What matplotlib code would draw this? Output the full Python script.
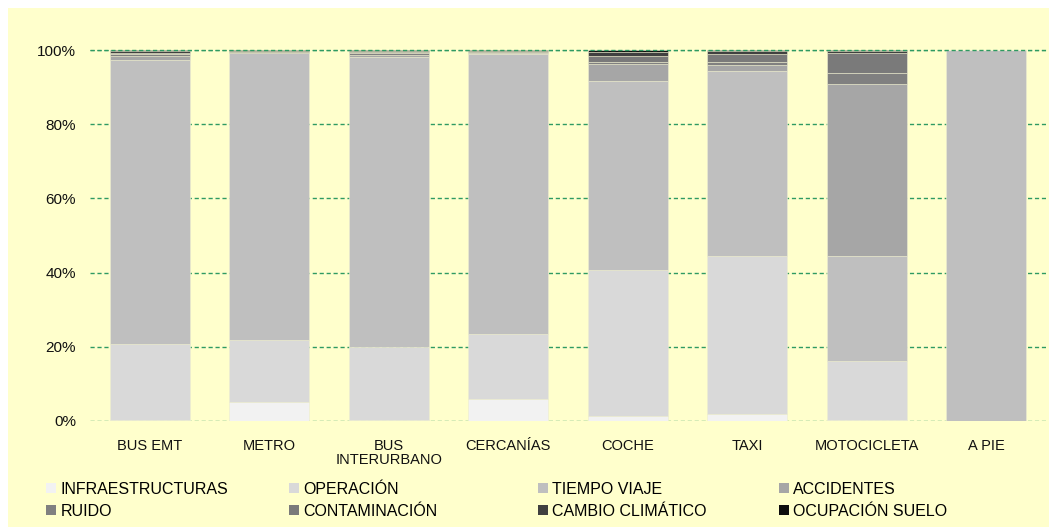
import numpy as np
import matplotlib.pyplot as plt
from matplotlib.patches import Rectangle, Patch
from matplotlib.ticker import PercentFormatter

plt.rcParams['font.family'] = ['Liberation Sans', 'DejaVu Sans']

# categories and stacked cost shares (%)
categories = ['BUS EMT', 'METRO', 'BUS\nINTERURBANO', 'CERCANÍAS', 'COCHE', 'TAXI', 'MOTOCICLETA', 'A PIE']
infraestructuras = [0.3, 5.0, 0.3, 6.0, 1.3, 1.9, 0.3, 0.0]
operacion = [20.5, 16.8, 19.6, 17.4, 39.4, 42.6, 15.9, 0.0]
tiempo_viaje = [76.6, 77.3, 78.1, 75.6, 50.9, 49.8, 28.3, 99.9]
accidentes = [0.9, 0.2, 0.7, 0.2, 4.5, 1.7, 46.3, 0.1]
ruido = [0.5, 0.1, 0.4, 0.1, 0.7, 0.8, 3.1, 0.0]
contaminacion = [0.5, 0.1, 0.4, 0.1, 1.7, 2.2, 5.4, 0.0]
cambio_climatico = [0.4, 0.3, 0.3, 0.4, 0.9, 0.7, 0.5, 0.0]
ocupacion_suelo = [0.3, 0.2, 0.2, 0.2, 0.6, 0.3, 0.2, 0.0]

series_names = ['INFRAESTRUCTURAS', 'OPERACIÓN', 'TIEMPO VIAJE', 'ACCIDENTES',
                'RUIDO', 'CONTAMINACIÓN', 'CAMBIO CLIMÁTICO', 'OCUPACIÓN SUELO']
series = [infraestructuras, operacion, tiempo_viaje, accidentes,
          ruido, contaminacion, cambio_climatico, ocupacion_suelo]
colors = ['#F2F2F2', '#D9D9D9', '#BFBFBF', '#A6A6A6',
          '#808080', '#7A7A7A', '#404040', '#0D0D0D']

W, H = 1057, 529
fig = plt.figure(figsize=(W / 100, H / 100), dpi=100, facecolor='white')

# yellow chart area behind everything
fig.patches.append(Rectangle((8 / W, 2 / H), (W - 16) / W, (H - 10) / H,
                             transform=fig.transFigure, facecolor='#FFFFCC',
                             edgecolor='none', zorder=-10))

ax = fig.add_axes([90 / W, (H - 421) / H, 956 / W, 371 / H])
ax.set_facecolor('none')

data = np.array(series, dtype=float)
data = data / data.sum(axis=0) * 100  # 100% stacked

x = np.arange(len(categories))
bottom = np.zeros(len(categories))
for name, vals, col in zip(series_names, data, colors):
    ax.bar(x, vals, bottom=bottom, width=0.67, color=col,
           edgecolor='#EDEDD0', linewidth=0.4, label=name, zorder=3)
    bottom += vals

ax.set_xlim(-0.5, len(categories) - 0.5)
ax.set_ylim(0, 100)
ax.set_yticks(np.arange(0, 101, 20))
ax.yaxis.set_major_formatter(PercentFormatter(decimals=0))
ax.set_xticks(x)
ax.set_xticklabels(categories, fontsize=10.5, linespacing=0.95)
ax.tick_params(axis='y', length=0, pad=10, labelsize=11, colors='#111111')
ax.tick_params(axis='x', length=0, pad=13, colors='#111111')
grid_style = dict(color='#2E9A62', linestyle=(0, (3, 2)), linewidth=1.0)
ax.grid(axis='y', zorder=1, **grid_style)
ax.set_axisbelow(True)
# the 100% line sits on top of the bars
ax.axhline(100, zorder=5, clip_on=False, **grid_style)
for s in ax.spines.values():
    s.set_visible(False)

# legend: 2 rows x 4 columns, one legend per column
col_x = [46, 289, 538, 779]
for c in range(4):
    hs = [Patch(facecolor=colors[c], edgecolor='none'),
          Patch(facecolor=colors[c + 4], edgecolor='none')]
    ls = [series_names[c], series_names[c + 4]]
    fig.legend(hs, ls, loc='upper left',
               bbox_to_anchor=(col_x[c] / W, (H - 482) / H),
               frameon=False, fontsize=11.5, handlelength=0.6, handleheight=0.6,
               handletextpad=0.3, labelspacing=0.42, borderaxespad=0, borderpad=0)

fig.savefig('out.png', dpi=100, facecolor=fig.get_facecolor())
